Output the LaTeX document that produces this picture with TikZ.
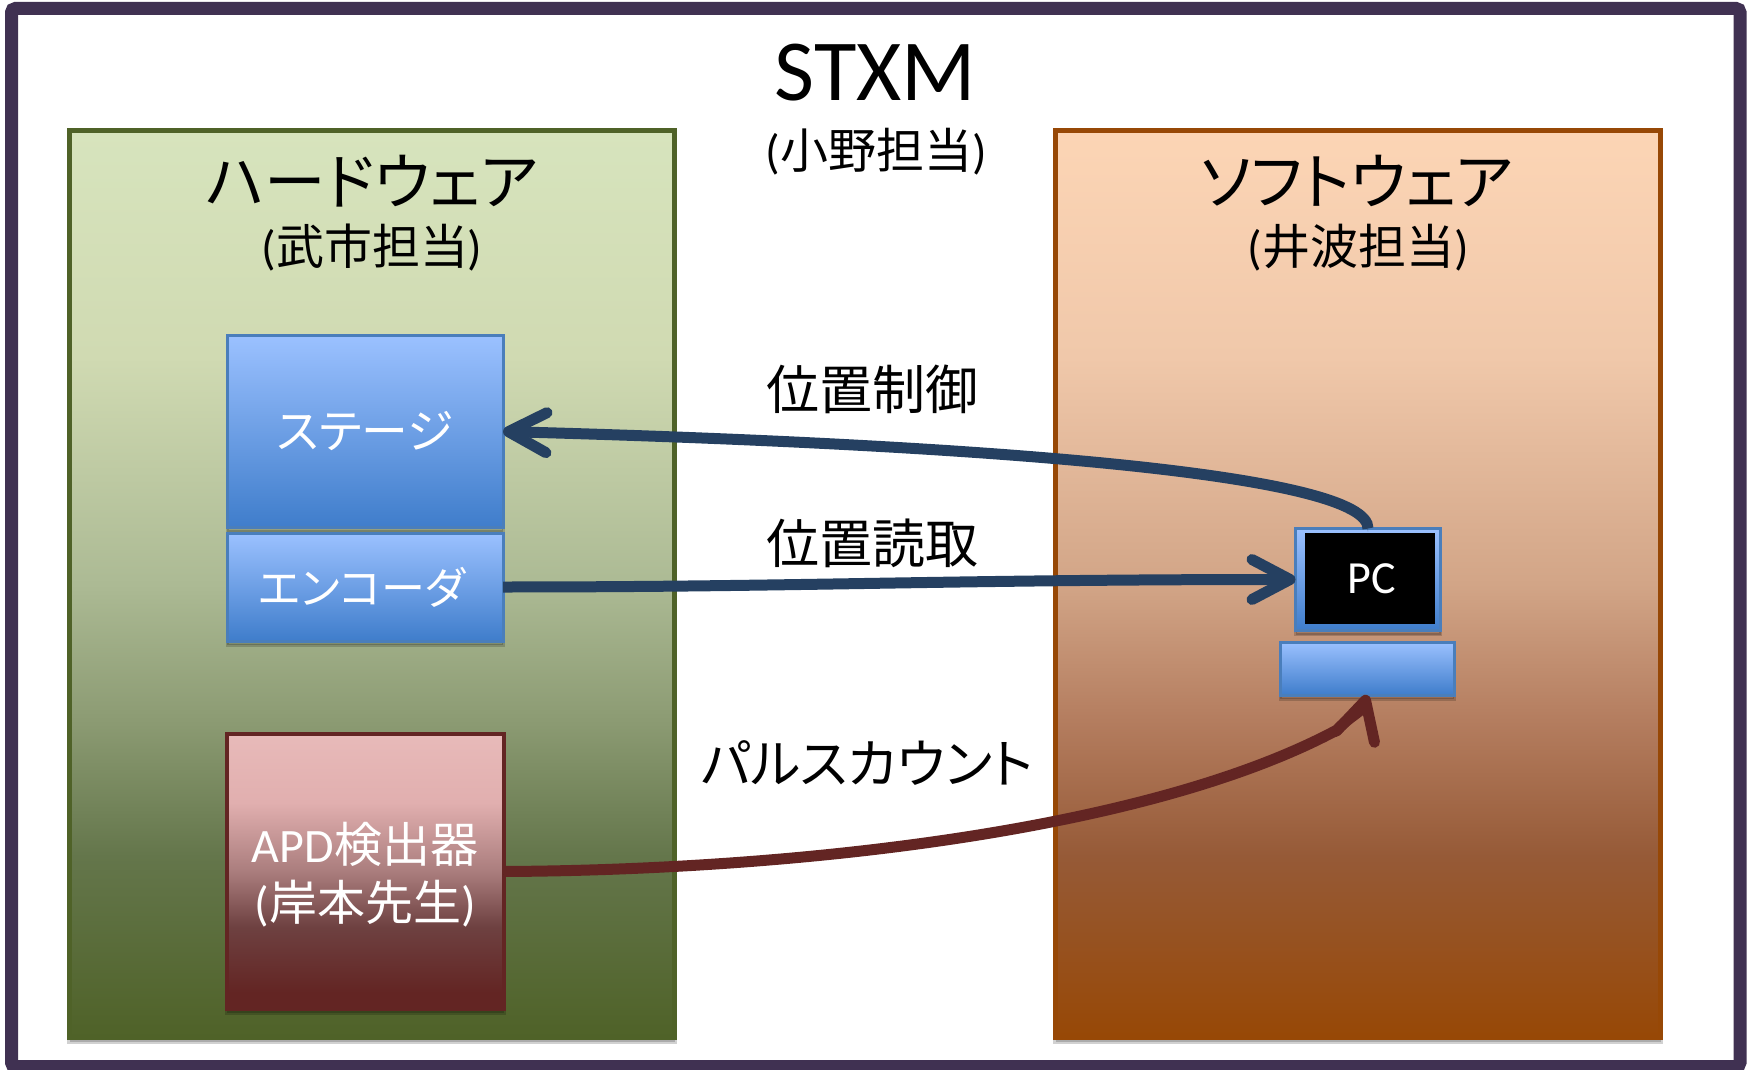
\documentclass[tikz,border=0pt]{standalone}
\usepackage{fontspec}
\setmainfont{Carlito}
\newfontfamily\cjk[RawFeature=+palt]{Noto Sans CJK JP}
\usetikzlibrary{arrows.meta,shadows}
\definecolor{framecol}{HTML}{403152}
\definecolor{hwline}{HTML}{4F6228}
\definecolor{hwtop}{HTML}{D7E4BD}
\definecolor{swline}{HTML}{974806}
\definecolor{swtop}{HTML}{FCD5B5}
\definecolor{blueline}{HTML}{4A7EBB}
\definecolor{bluetop}{HTML}{9BC1FF}
\definecolor{bluebot}{HTML}{3F7DCB}
\definecolor{redline}{HTML}{632523}
\definecolor{redtop}{HTML}{E8BAB9}
\definecolor{wirecol}{HTML}{254061}
\definecolor{hwa}{RGB}{100,118,75}
\definecolor{hwb}{RGB}{140,155,115}
\definecolor{hwc}{RGB}{172,186,148}
\definecolor{hwd}{RGB}{208,218,178}
\definecolor{swa}{RGB}{150,90,55}
\definecolor{swb}{RGB}{180,125,95}
\definecolor{swc}{RGB}{210,165,135}
\definecolor{swd}{RGB}{240,200,170}
\definecolor{reda}{RGB}{110,65,65}
\definecolor{redb}{RGB}{170,125,125}
\definecolor{redc}{RGB}{225,175,175}
\pgfdeclareverticalshading{hwshade}{100bp}{color(0bp)=(hwline); color(25bp)=(hwline);
    color(35bp)=(hwa); color(42.5bp)=(hwb); color(50bp)=(hwc); color(62.5bp)=(hwd);
    color(75bp)=(hwtop); color(100bp)=(hwtop)}
\pgfdeclareverticalshading{swshade}{100bp}{color(0bp)=(swline); color(25bp)=(swline);
    color(35bp)=(swa); color(42.5bp)=(swb); color(50bp)=(swc); color(62.5bp)=(swd);
    color(75bp)=(swtop); color(100bp)=(swtop)}
\pgfdeclareverticalshading{redshade}{100bp}{color(0bp)=(redline); color(28bp)=(redline);
    color(40bp)=(reda); color(50bp)=(redb); color(62.5bp)=(redc); color(75bp)=(redtop); color(100bp)=(redtop)}
\begin{document}
\begin{tikzpicture} [
                x=0.5pt,y=-0.5pt,
                every node/.style={inner sep=0pt,outer sep=0pt},
                softshadow/.style={preaction={draw=black,fill=black,opacity=.18,transform canvas={yshift=-2.2pt}}},
                frame/.style={draw=framecol,line width=6.5pt,rounded corners=2pt},
                panel/.style={line width=2.5pt,minimum width=302.5pt,minimum height=453.5pt},
                hardware/.style={panel,draw=hwline,shade,shading=hwshade,softshadow},
                software/.style={panel,draw=swline,shade,shading=swshade,softshadow},
                bluebox/.style={draw=blueline,line width=1.5pt,top color=bluetop,bottom color=bluebot,text=white,softshadow},
                redbox/.style={draw=redline,line width=2pt,shade,shading=redshade,softshadow},
                title/.style={font=\cjk\fontsize{30.8}{32}\selectfont},
                owner/.style={font=\fontsize{24}{26}\selectfont},
                signal/.style={font=\cjk\fontsize{26.5}{30}\selectfont},
                wire/.style={line width=5.5pt,-{Straight Barb[round,length=19pt,width=20pt]},
                    preaction={draw=black,opacity=.15,transform canvas={yshift=-1.5pt}}},
                control wire/.style={wire,draw=wirecol},
                pulse wire/.style={wire,draw=redline},
            ]
            \useasboundingbox (0,0) rectangle (1753,1070);
            \node[frame,minimum width=864.25pt,minimum height=529pt] (outer) at (875.75,537.5) {};
            % First we draw the two panels and the headings
            \node[hardware] (hw) at (372,584) {};
            \node[software] (sw) at (1358,584) {};
            \node[font=\fontsize{43.5}{46}\selectfont] (stxm) at (875.5,72.5) {STXM};
            \foreach \pos/\name/\label in {
                    {(876,152)/ono/小野担当},
                    {(372,248)/takeichi/武市担当},
                    {(1358,248)/inami/井波担当}}
                \node[owner] (\name) at \pos {({\cjk\label})};
            \node[title] (hwtitle) at (372,181) {ハードウェア};
            \node[title] (swtitle) at (1357,181) {ソフトウェア};
            % Then the parts inside the panels
            \node[bluebox,minimum width=138pt,minimum height=96pt,font=\cjk\fontsize{23.4}{26}\selectfont] (stage) at (365,431.5) {ステージ};
            \node[bluebox,minimum width=138pt,minimum height=54pt,font=\cjk\fontsize{22}{26}\selectfont] (encoder) at (365,587) {\hspace*{-3pt}エンコーダ};
            \node[redbox,minimum width=138.5pt,minimum height=137.5pt] (apd) at (365,871.5) {};
            \node[text=white,align=center,font=\fontsize{24}{29}\selectfont] (apdtext) at (365,875) {APD{\cjk 検出器}\\({\cjk 岸本先生})};
            \node[bluebox,minimum width=72.5pt,minimum height=51pt] (pc) at (1368,579.5) {};
            \node[fill=black,minimum width=65pt,minimum height=45.5pt,text=white,font=\fontsize{23}{25}\selectfont] (screen) at (1370,578.5) {\hspace*{2pt}PC};
            \node[bluebox,minimum width=87pt,minimum height=26.5pt] (keyboard) at (1367,668.5) {};
            % Connect the parts and label the wires
            \draw[control wire] (pc.north) .. controls (1369,475) and (1000,445) .. (stage.east);
            \draw[control wire] (encoder.east) .. controls (800,587) and (950,579.5) .. (pc.west);
            \draw[pulse wire] (apd.east) .. controls (800,870) and (1150,830) .. (1337,730)
                .. controls (1350,716) and (1362.5,711) .. (keyboard.south);
            \node[signal] (posctl) at (872,389) {位置制御};
            \node[signal] (posread) at (872,543) {位置読取};
            \node[signal] (pulse) at (867,763) {パルスカウント};
        \end{tikzpicture}
\end{document}
